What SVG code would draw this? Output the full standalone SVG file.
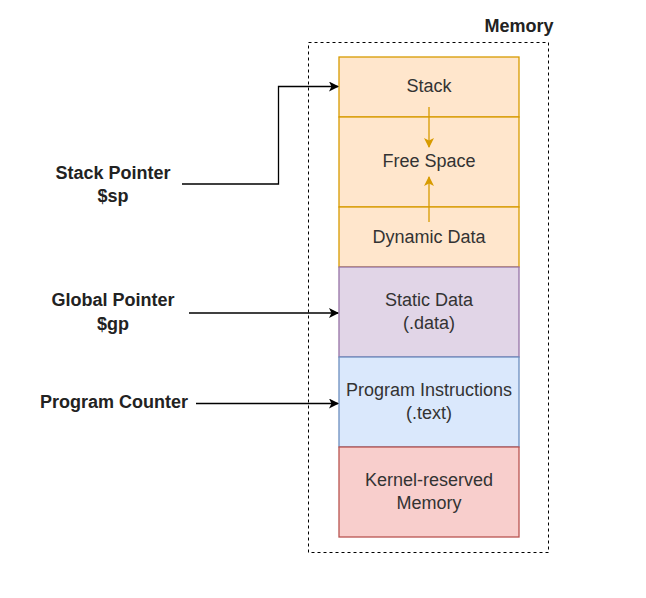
<svg xmlns="http://www.w3.org/2000/svg" width="646" height="598" viewBox="0 0 646 598">
<defs>
<style>
.t{font-family:"Liberation Sans",Arial,sans-serif;font-size:18px;fill:#333;text-anchor:middle;dominant-baseline:central}
.b{font-family:"Liberation Sans",Arial,sans-serif;font-size:18px;font-weight:bold;fill:#222;text-anchor:middle;dominant-baseline:central}
.c{fill:none;stroke:#000;stroke-width:1.3}
.o{fill:none;stroke:#d79b00;stroke-width:1.3}
</style>
<marker id="ah" viewBox="0 0 10 10" refX="9" refY="5" markerWidth="10" markerHeight="10" markerUnits="userSpaceOnUse" orient="auto">
<path d="M0,0 L10,5 L0,10 L2.5,5 Z" fill="#000"/>
</marker>
<marker id="ao" viewBox="0 0 10 10" refX="9" refY="5" markerWidth="10" markerHeight="10" markerUnits="userSpaceOnUse" orient="auto">
<path d="M0,0 L10,5 L0,10 L2.5,5 Z" fill="#d79b00"/>
</marker>
</defs>
<rect width="646" height="598" fill="#fff"/>
<g id="memory">
<rect x="308.5" y="42.5" width="240" height="510" fill="none" stroke="#000" stroke-dasharray="3,3"/>
<text class="b" x="519" y="26">Memory</text>
</g>
<g id="stack">
<rect x="339" y="57" width="180" height="60" fill="#ffe6cc" stroke="#d79b00" stroke-width="1.3"/>
<text class="t" x="429" y="86">Stack</text>
</g>
<g id="free">
<rect x="339" y="117" width="180" height="90" fill="#ffe6cc" stroke="#d79b00" stroke-width="1.3"/>
<text class="t" x="429" y="161">Free Space</text>
</g>
<g id="dynamic">
<rect x="339" y="207" width="180" height="60" fill="#ffe6cc" stroke="#d79b00" stroke-width="1.3"/>
<text class="t" x="429" y="237">Dynamic Data</text>
</g>
<g id="static">
<rect x="339" y="267" width="180" height="90" fill="#e1d5e7" stroke="#9673a6" stroke-width="1.3"/>
<text class="t" x="429" y="300">Static Data</text>
<text class="t" x="429" y="323">(.data)</text>
</g>
<g id="program">
<rect x="339" y="357" width="180" height="90" fill="#dae8fc" stroke="#6c8ebf" stroke-width="1.3"/>
<text class="t" x="429" y="390">Program Instructions</text>
<text class="t" x="429" y="413">(.text)</text>
</g>
<g id="kernel">
<rect x="339" y="447" width="180" height="90" fill="#f8cecc" stroke="#b85450" stroke-width="1.3"/>
<text class="t" x="429" y="480">Kernel-reserved</text>
<text class="t" x="429" y="503">Memory</text>
</g>
<g id="sp">
<text class="b" x="113" y="173">Stack Pointer</text>
<text class="b" x="113" y="196">$sp</text>
</g>
<g id="gp">
<text class="b" x="113" y="300">Global Pointer</text>
<text class="b" x="113" y="324">$gp</text>
</g>
<g id="pc">
<text class="b" x="114" y="402">Program Counter</text>
</g>
<g id="connectors">
<path class="c" d="M182,184 H278.5 V86.5 H338" marker-end="url(#ah)"/>
<path class="c" d="M189,313 H338" marker-end="url(#ah)"/>
<path class="c" d="M196,403.5 H338" marker-end="url(#ah)"/>
<path class="o" d="M429,107 V147" marker-end="url(#ao)"/>
<path class="o" d="M429,222 V177" marker-end="url(#ao)"/>
</g>
</svg>
